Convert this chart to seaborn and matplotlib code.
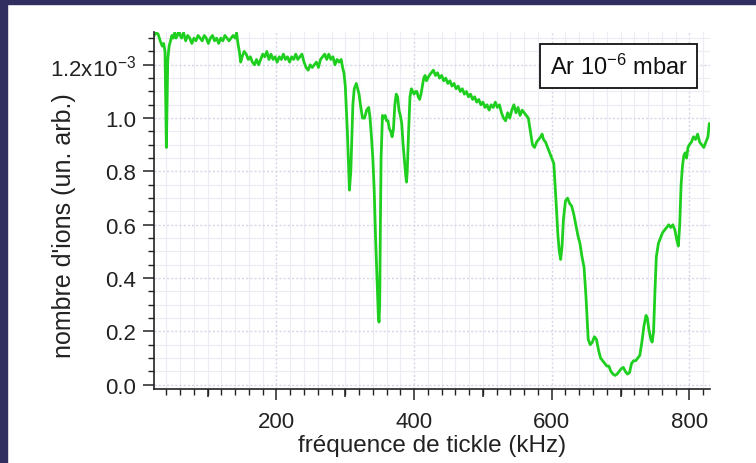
import matplotlib
matplotlib.use("Agg")
import matplotlib.pyplot as plt
from matplotlib.patches import Rectangle
from matplotlib.ticker import MultipleLocator
import pandas as pd
import seaborn as sns

# Tickle frequency scan (kHz) and ion signal (units of 1e-3, arbitrary)
freq_khz = [
    22, 25, 28, 31, 34, 36, 38, 40, 42, 44, 46, 48, 50, 52, 54, 56, 58, 60, 62, 65,
    68, 71, 74, 77, 80, 83, 86, 89, 92, 95, 98, 101, 104, 107, 110, 113, 116, 119, 122, 125,
    128, 131, 134, 137, 140, 142, 144, 146, 148, 150, 153, 156, 159, 162, 165, 168, 171, 174, 177, 180,
    183, 186, 189, 192, 195, 198, 201, 204, 207, 210, 213, 216, 219, 222, 225, 228, 231, 234, 237, 240,
    243, 246, 249, 252, 255, 258, 261, 264, 267, 270, 273, 276, 279, 282, 285, 288, 291, 294, 296, 298,
    300, 303, 306, 308, 311, 313, 316, 318, 320, 322, 325, 328, 331, 334, 336, 338, 340, 342, 344, 346,
    348, 349, 350, 351, 352, 354, 356, 358, 360, 362, 364, 366, 368, 370, 372, 374, 376, 378, 380, 382,
    384, 386, 388, 389, 390, 392, 394, 396, 398, 400, 402, 404, 406, 408, 410, 412, 414, 416, 418, 420,
    422, 425, 428, 431, 434, 437, 440, 443, 446, 449, 452, 455, 458, 461, 464, 467, 470, 473, 476, 479,
    482, 485, 488, 491, 494, 497, 500, 503, 506, 509, 512, 515, 518, 521, 524, 527, 530, 533, 536, 539,
    542, 545, 548, 551, 554, 557, 560, 563, 566, 569, 572, 575, 578, 581, 584, 586, 588, 591, 594, 597,
    600, 603, 606, 609, 611, 613, 615, 617, 620, 623, 626, 629, 632, 635, 638, 641, 644, 647, 650, 653,
    656, 659, 662, 665, 668, 671, 674, 677, 680, 683, 686, 689, 692, 695, 698, 701, 704, 707, 710, 713,
    716, 719, 722, 725, 728, 731, 734, 737, 739, 741, 744, 746, 748, 750, 752, 755, 758, 761, 764, 767,
    770, 773, 776, 779, 782, 784, 786, 788, 790, 792, 794, 796, 798, 800, 803, 806, 809, 812, 815, 818,
    821, 824, 827, 829,
]
ion_signal = [
    1.31, 1.32, 1.315, 1.29, 1.27, 1.28, 1.25, 0.89, 1.22, 1.27, 1.29, 1.31, 1.30, 1.32, 1.30, 1.31, 1.33, 1.31, 1.30, 1.32,
    1.29, 1.31, 1.30, 1.28, 1.30, 1.29, 1.31, 1.30, 1.29, 1.31, 1.30, 1.28, 1.30, 1.31, 1.29, 1.30, 1.28, 1.30, 1.29, 1.31,
    1.30, 1.29, 1.30, 1.31, 1.30, 1.32, 1.28, 1.25, 1.21, 1.23, 1.25, 1.24, 1.22, 1.23, 1.21, 1.20, 1.22, 1.20, 1.22, 1.24,
    1.23, 1.25, 1.22, 1.24, 1.22, 1.23, 1.21, 1.23, 1.22, 1.24, 1.22, 1.23, 1.21, 1.23, 1.22, 1.24, 1.22, 1.23, 1.24, 1.21,
    1.19, 1.18, 1.20, 1.19, 1.20, 1.21, 1.19, 1.22, 1.23, 1.24, 1.22, 1.24, 1.22, 1.23, 1.20, 1.22, 1.21, 1.22, 1.19, 1.17,
    1.12, 0.95, 0.73, 0.80, 1.05, 1.11, 1.13, 1.11, 1.09, 1.05, 1.00, 1.00, 1.03, 1.04, 1.00, 0.93, 0.85, 0.73, 0.55, 0.40,
    0.26, 0.235, 0.30, 0.60, 0.85, 1.01, 1.00, 1.01, 0.99, 0.99, 0.96, 0.95, 0.93, 0.96, 1.05, 1.09, 1.08, 1.03, 1.01, 0.98,
    0.90, 0.84, 0.78, 0.76, 0.80, 0.95, 1.08, 1.11, 1.10, 1.09, 1.10, 1.10, 1.08, 1.07, 1.09, 1.12, 1.15, 1.16, 1.14, 1.15,
    1.16, 1.17, 1.18, 1.16, 1.17, 1.15, 1.16, 1.14, 1.15, 1.13, 1.14, 1.12, 1.13, 1.11, 1.12, 1.10, 1.11, 1.09, 1.10, 1.08,
    1.09, 1.07, 1.08, 1.06, 1.07, 1.05, 1.06, 1.04, 1.05, 1.03, 1.05, 1.04, 1.06, 1.04, 1.05, 1.02, 1.00, 0.99, 1.02, 1.00,
    1.03, 1.05, 1.02, 1.04, 1.01, 1.03, 1.02, 1.01, 1.00, 0.95, 0.90, 0.89, 0.91, 0.92, 0.93, 0.94, 0.92, 0.91, 0.89, 0.87,
    0.85, 0.83, 0.70, 0.56, 0.50, 0.47, 0.52, 0.62, 0.69, 0.70, 0.68, 0.67, 0.64, 0.60, 0.56, 0.53, 0.48, 0.44, 0.32, 0.17,
    0.15, 0.16, 0.18, 0.17, 0.13, 0.10, 0.09, 0.08, 0.07, 0.07, 0.05, 0.04, 0.035, 0.04, 0.05, 0.06, 0.065, 0.05, 0.04, 0.045,
    0.08, 0.09, 0.09, 0.10, 0.11, 0.16, 0.22, 0.26, 0.25, 0.21, 0.17, 0.16, 0.20, 0.35, 0.48, 0.53, 0.55, 0.57, 0.58, 0.59,
    0.60, 0.59, 0.60, 0.58, 0.54, 0.52, 0.60, 0.75, 0.82, 0.86, 0.87, 0.85, 0.89, 0.90, 0.91, 0.93, 0.92, 0.94, 0.91, 0.90,
    0.89, 0.91, 0.93, 0.98,
]

y_ticks = [0.0, 0.2, 0.4, 0.6, 0.8, 1.0, 1.2]
y_tick_labels = ["0.0", "0.2", "0.4", "0.6", "0.8", "1.0", r"1.2x10$^{-3}$"]
x_ticks = [200, 400, 600, 800]
x_tick_labels = ["200", "400", "600", "800"]
x_mid_ticks = [100, 300, 500, 700]

x_label = "fréquence de tickle (kHz)"
y_label = "nombre d'ions (un. arb.)"
note = r"Ar 10$^{-6}$ mbar"

sns.set_style("ticks")
plt.rcParams["font.family"] = ["Liberation Sans", "DejaVu Sans"]
plt.rcParams["mathtext.fontset"] = "custom"
plt.rcParams["mathtext.rm"] = "Liberation Sans"
plt.rcParams["mathtext.it"] = "Liberation Sans:italic"
plt.rcParams["mathtext.bf"] = "Liberation Sans:bold"

W, H = 756, 464
fig = plt.figure(figsize=(W / 100, H / 100), dpi=100)
fig.patch.set_facecolor("white")

# dark frame strips along the left and top edges
navy = "#302f5f"
fig.add_artist(Rectangle((0, 0), 7 / W, 1, transform=fig.transFigure, color=navy, zorder=10))
fig.add_artist(Rectangle((0, 1 - 5 / H), 1, 5 / H, transform=fig.transFigure, color=navy, zorder=10))

ax = fig.add_axes([154 / W, 1 - 390 / H, 556 / W, 357 / H])

df = pd.DataFrame({"freq": freq_khz, "ions": ion_signal})
sns.lineplot(data=df, x="freq", y="ions", ax=ax, color="#1fcf1f", linewidth=2.0, sort=False)

ax.set_xlim(22, 830)
ax.set_ylim(-0.016, 1.323)

ax.set_xticks(x_ticks, x_tick_labels)
ax.xaxis.set_minor_locator(MultipleLocator(20))
ax.set_yticks(y_ticks, y_tick_labels)
ax.yaxis.set_minor_locator(MultipleLocator(0.05))

ax.tick_params(axis="x", which="major", direction="out", length=8, width=1.1, labelsize=16, pad=8, colors="#222222")
ax.tick_params(axis="x", which="minor", direction="out", length=4.5, width=1.0, colors="#222222")
ax.tick_params(axis="y", which="major", direction="out", length=8, width=1.1, labelsize=16, pad=5, colors="#222222")
ax.tick_params(axis="y", which="minor", direction="out", length=4.5, width=1.0, colors="#222222")

# intermediate ticks at the odd hundreds
sec = ax.secondary_xaxis("bottom")
sec.set_xticks(x_mid_ticks, [""] * len(x_mid_ticks))
sec.tick_params(direction="out", length=6, width=1.1, colors="#222222")
sec.spines["bottom"].set_visible(False)

for side in ("top", "right"):
    ax.spines[side].set_visible(False)
for side in ("left", "bottom"):
    ax.spines[side].set_color("#222222")
    ax.spines[side].set_linewidth(1.2)

ax.set_axisbelow(True)
ax.grid(which="major", color="#d6d6e6", linestyle=(0, (1.5, 1.5)), linewidth=1.0)
ax.grid(which="minor", color="#ececf5", linestyle="-", linewidth=0.8)

ax.set_xlabel(x_label, fontsize=17.5, color="#222222", labelpad=1)
ax.set_ylabel(y_label, fontsize=18, color="#222222", va="center")
ax.yaxis.set_label_coords((64 - 154) / 556, 0.46)

ax.text(0.836, 0.905, note, transform=ax.transAxes, ha="center", va="center",
        fontsize=17, color="#111111",
        bbox=dict(boxstyle="square,pad=0.4", fc="white", ec="#111111", lw=1.3))

fig.savefig("out.png", dpi=100, facecolor="white")
